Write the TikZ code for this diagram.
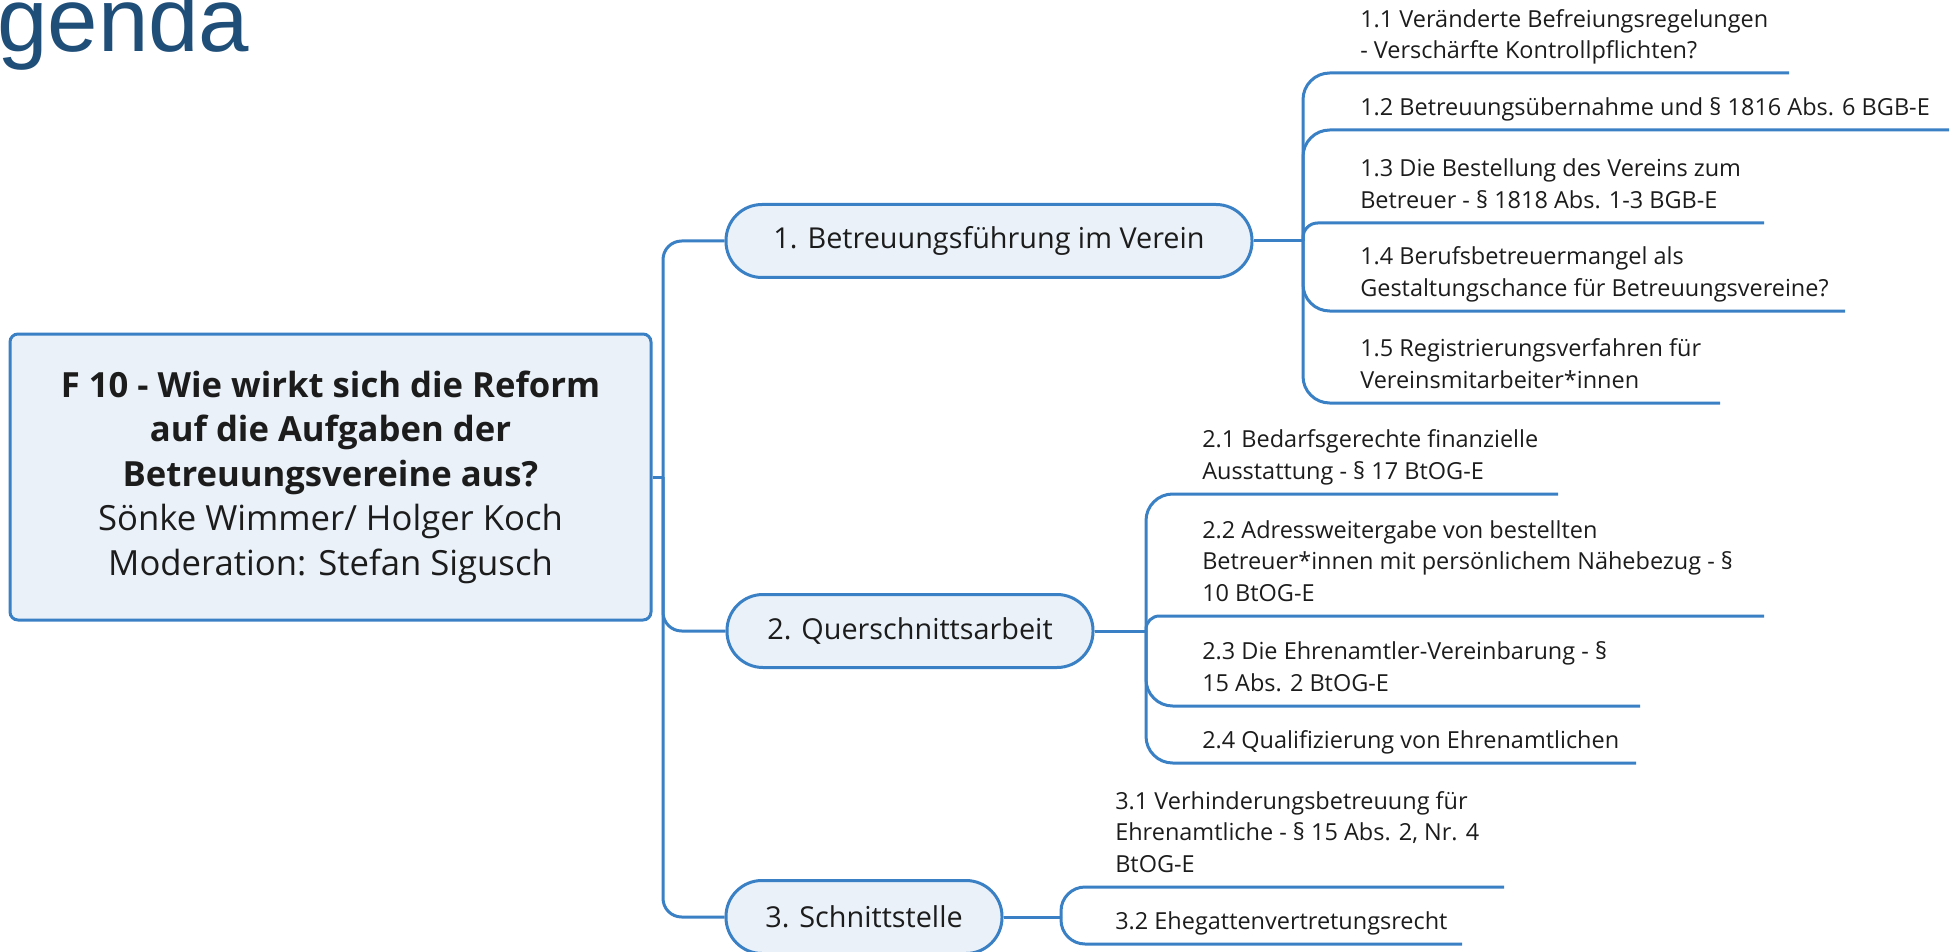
\documentclass[tikz,border=0pt]{standalone}
\usepackage{fontspec}
\setmainfont{Open Sans}
\newfontfamily\titlefont{Liberation Sans}
\definecolor{lineblue}{RGB}{58,128,196}
\definecolor{fillblue}{RGB}{234,241,249}
\definecolor{titleblue}{RGB}{31,78,121}
\definecolor{textgray}{RGB}{28,28,28}
\begin{document}
\begin{tikzpicture}[x=0.75pt,y=-0.75pt,
  conn/.style={draw=lineblue, line width=2.25pt, rounded corners=20pt},
  trunk/.style={draw=lineblue, line width=2.25pt, rounded corners=14pt},
  centerbox/.style={draw=lineblue, fill=fillblue, line width=2.25pt, rounded corners=6pt,
    inner sep=0pt, align=center, text=textgray, font=\fontsize{26}{33.4}\selectfont},
  topicbox/.style={draw=lineblue, fill=fillblue, line width=2.25pt, rounded corners=27pt,
    minimum height=54.75pt, inner sep=0pt, text=textgray, font=\fontsize{21.6}{26}\selectfont},
  item/.style={anchor=south west, align=left, inner sep=0pt, text depth=0pt,
    text=textgray, font=\fontsize{17.6}{23.6}\selectfont},
]
\useasboundingbox (0,0) rectangle (1955,952);
\clip (0,0) rectangle (1955,952);

% title
\node[anchor=base west, inner sep=0pt, text=titleblue,
  font=\titlefont\fontsize{68}{70}\selectfont] (title) at (-3,52) {genda};

% central topic
\node[centerbox, minimum width=480.75pt, minimum height=214.5pt] (c) at (330.5,477)
  {\textbf{F 10 - Wie wirkt sich die Reform}\\
   \textbf{auf die Aufgaben der}\\
   \textbf{Betreuungsvereine aus?}\\
   Sönke Wimmer/ Holger Koch\\
   Moderation: Stefan Sigusch};

% main topics
\node[topicbox, minimum width=394.5pt] (n1) at (989,241) {1. Betreuungsführung im Verein};
\node[topicbox, minimum width=274.5pt] (n2) at (910,631) {2. Querschnittsarbeit};
\node[topicbox, minimum width=207pt] (n3) at (864,917) {3. Schnittstelle};

% main trunk
\coordinate (T) at (663,477);
\draw[trunk] (c.east) -- (T);
\draw[trunk] (T) |- (n1.west);
\draw[trunk] (T) |- (n2.west);
\draw[trunk] (T) |- (n3.west);

% branch 1
\coordinate (S1) at (1303,241);
\coordinate (e11) at (1789,73);
\coordinate (e12) at (1949,130);
\coordinate (e13) at (1764,223);
\coordinate (e14) at (1845,311);
\coordinate (e15) at (1720,403);
\draw[trunk] (n1.east) -- (S1);
\draw[conn] (S1) |- (e11);
\draw[conn] (S1) |- (e12);
\draw[conn, rounded corners=11pt] (S1) |- (e13);
\draw[conn] (S1) |- (e14);
\draw[conn] (S1) |- (e15);
\node[item] (t11) at (1360,59) {1.1 Veränderte Befreiungsregelungen\\- Verschärfte Kontrollpflichten?};
\node[item] (t12) at (1360,115.5) {1.2 Betreuungsübernahme und § 1816 Abs. 6 BGB-E};
\node[item] (t13) at (1360,208.5) {1.3 Die Bestellung des Vereins zum\\Betreuer - § 1818 Abs. 1-3 BGB-E};
\node[item] (t14) at (1360,296.5) {1.4 Berufsbetreuermangel als\\Gestaltungschance für Betreuungsvereine?};
\node[item] (t15) at (1360,388.5) {1.5 Registrierungsverfahren für\\Vereinsmitarbeiter*innen};

% branch 2
\coordinate (S2) at (1146,631);
\coordinate (e21) at (1558,494);
\coordinate (e22) at (1764,616);
\coordinate (e23) at (1640,706);
\coordinate (e24) at (1636,763);
\draw[trunk] (n2.east) -- (S2);
\draw[conn] (S2) |- (e21);
\draw[conn, rounded corners=10pt] (S2) |- (e22);
\draw[conn] (S2) |- (e23);
\draw[conn] (S2) |- (e24);
\node[item] (t21) at (1202,479.5) {2.1 Bedarfsgerechte finanzielle\\Ausstattung - § 17 BtOG-E};
\node[item] (t22) at (1202,601.5) {2.2 Adressweitergabe von bestellten\\Betreuer*innen mit persönlichem Nähebezug - §\\10 BtOG-E};
\node[item] (t23) at (1202,691.5) {2.3 Die Ehrenamtler-Vereinbarung - §\\15 Abs. 2 BtOG-E};
\node[item] (t24) at (1202,748.5) {2.4 Qualifizierung von Ehrenamtlichen};

% branch 3
\coordinate (S3) at (1061,917);
\coordinate (e31) at (1504,887);
\coordinate (e32) at (1462,944);
\draw[trunk] (n3.east) -- (S3);
\draw[conn, rounded corners=18pt] (S3) |- (e31);
\draw[conn, rounded corners=18pt] (S3) |- (e32);
\node[item] (t31) at (1115,872.5) {3.1 Verhinderungsbetreuung für\\Ehrenamtliche - § 15 Abs. 2, Nr. 4\\BtOG-E};
\node[item] (t32) at (1115,929.5) {3.2 Ehegattenvertretungsrecht};
\end{tikzpicture}
\end{document}
